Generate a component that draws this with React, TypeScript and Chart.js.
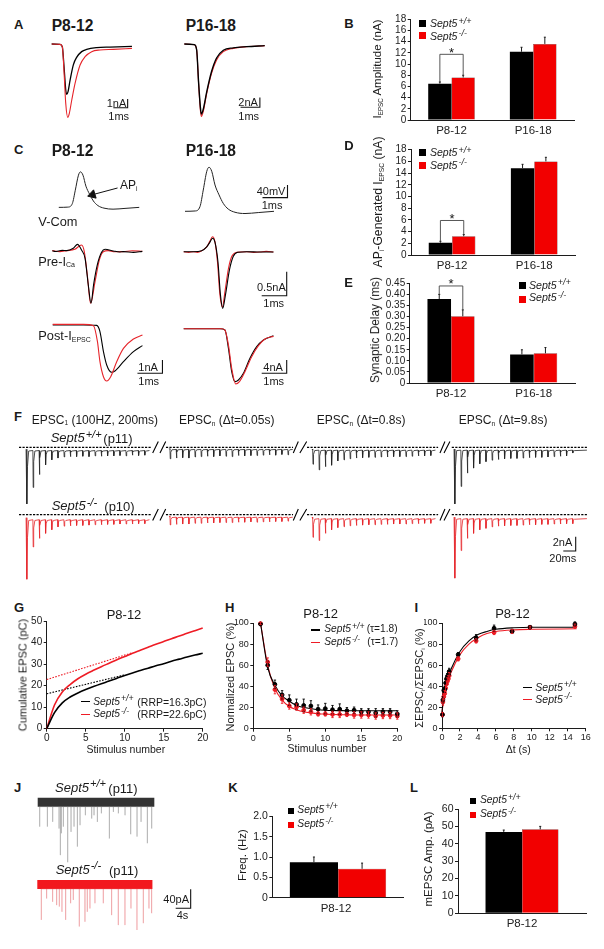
import React, { useEffect, useRef } from "react";
import { Chart, registerables } from "chart.js";

Chart.register(...registerables);
Chart.defaults.font.family = '"Liberation Sans", Arial, sans-serif';
Chart.defaults.color = "#222";

const INK = "#1c1c1c";
const RED = "#f20000";
const TRACE_RED = "#e6242a";

/* ---------- Bar values ---------- */
const ageGroups = ["P8-12", "P16-18"];
const oneGroup = ["P8-12"];
const ampWt = [6.5, 12.2];
const ampKo = [7.6, 13.6];
const ampWtTop = [6.8, 13.0];
const ampKoTop = [8.0, 14.8];
const apWt = [2.1, 14.85];
const apKo = [3.2, 16.0];
const apWtTop = [2.35, 15.5];
const apKoTop = [3.5, 16.7];
const delayWt = [0.379, 0.129];
const delayKo = [0.301, 0.134];
const delayWtTop = [0.4, 0.15];
const delayKoTop = [0.33, 0.16];
const freqWt = [0.87];
const freqKo = [0.71];
const freqWtTop = [1.0];
const freqKoTop = [0.85];
const mAmpWt = [46.8];
const mAmpKo = [48.3];
const mAmpWtTop = [47.9];
const mAmpKoTop = [50];

/* ---------- Panel A traces: [ms, nA] ---------- */
const a1Black = [[0,0],[.58,-.04],[.74,-.31],[.86,-2.6],[.98,-5.3],[1.05,-5.8],[1.14,-5.5],[1.28,-4.2],[1.51,-2.4],[1.74,-1.54],[2.09,-.88],[2.44,-.62],[3.14,-.42],[4.07,-.35],[5.6,-.27]];
const a1Red = [[0,0],[.58,-.04],[.74,-.31],[.86,-3.2],[.98,-6.85],[1.12,-8.46],[1.23,-8],[1.4,-6.46],[1.63,-4.54],[1.98,-2.42],[2.33,-1.46],[2.79,-.88],[3.37,-.69],[4.3,-.62],[5.6,-.5]];
const a2Red = [[0,0],[.52,-.14],[.64,-1.24],[.74,-8.14],[.83,-13.66],[.88,-15],[.98,-14],[1.16,-10.2],[1.41,-6.07],[1.67,-3.3],[2.02,-1.59],[2.53,-.9],[3.22,-.55],[4.16,-.34]];
const a2Black = [[0,0],[.52,-.14],[.64,-1.24],[.74,-8],[.83,-13],[.88,-14.5],[.98,-13.5],[1.16,-9.9],[1.41,-5.7],[1.67,-2.9],[2.02,-1.3],[2.53,-.8],[3.22,-.55],[4.16,-.34]];

/* ---------- Panel C traces ---------- */
const apWave = [[0,0],[.4,1],[.6,15],[.73,67],[.87,126],[.96,139],[1.07,126],[1.2,83],[1.36,52],[1.53,25],[1.73,7],[2,-3],[2.4,-7],[2.93,-4],[3.56,0]];
const apArrow = [[2.6,75.8],[1.49,49.5]];
const pre1Black = [[0,.007],[.12,-.01],[.24,0],[.4,.012],[.57,.007],[.84,.056],[1.01,.139],[1.17,.02],[1.31,-.153],[1.44,-.708],[1.55,-1.09],[1.65,-.708],[1.8,-.29],[1.97,-.028],[2.11,.035],[2.44,0],[2.7,-.02],[2.84,-.014],[3.24,-.028],[3.6,-.007]];
const pre1Red = [[0,.007],[.3,-.012],[.57,.007],[.9,.035],[1.17,.125],[1.28,-.014],[1.4,-.5],[1.53,-1.09],[1.71,-.64],[1.88,-.19],[2.04,-.014],[2.24,.007],[2.5,-.016],[2.84,-.014],[3.2,.006],[3.6,-.007]];
const pre2Red = [[0,0],[.2,-.014],[.39,0],[.55,-.014],[.72,.02],[.92,.1],[1.05,.22],[1.15,.31],[1.25,.21],[1.35,-.21],[1.45,-.9],[1.55,-1.15],[1.65,-.83],[1.79,-.35],[1.92,-.1],[2.12,-.014],[2.52,0],[2.8,-.014],[3.05,-.007],[3.3,.007],[3.59,-.007]];
const pre2Black = [[0,0],[.39,0],[.72,.02],[.92,.1],[1.05,.2],[1.15,.28],[1.25,.2],[1.37,-.21],[1.47,-.9],[1.56,-1.18],[1.67,-.9],[1.83,-.38],[1.98,-.1],[2.16,-.01],[2.52,0],[3.05,-.007],[3.59,-.007]];
const post1Black = [[0,0],[1.23,0],[1.76,-.03],[1.89,-.5],[2.03,-2],[2.16,-3],[2.36,-3.55],[2.49,-3.45],[2.83,-2.75],[3.23,-2],[3.59,-1.55]];
const post1Red = [[0,.05],[1.23,.05],[1.63,-.05],[1.79,-1.25],[1.89,-2.75],[2.03,-3.88],[2.16,-4.2],[2.32,-3.88],[2.56,-2.75],[2.83,-1.75],[3.23,-1.05],[3.59,-.75]];
const post2Black = [[0,0],[1.45,0],[1.65,-.4],[1.79,-5.9],[1.92,-12.9],[2.05,-15.9],[2.19,-15.4],[2.39,-13.4],[2.65,-8.9],[2.92,-5.4],[3.19,-3.4],[3.59,-2.1]];
const post2Red = [[0,0],[1.52,0],[1.65,-.4],[1.79,-4.9],[1.92,-11.9],[2.08,-16.6],[2.23,-15.9],[2.45,-12.9],[2.72,-8.4],[2.99,-5.1],[3.25,-3.1],[3.59,-2.3]];

/* ---------- Panel F: peak EPSC amplitudes in each train (nA) ---------- */
const fBlack1 = [7.9,5.6,3.8,2.45,1.75,1.5,1.35,1.3,1.3,1.25,1.3,1.2,1.25,1.2,1.2,1.15,1.2,1.1,1.15,1.1];
const fBlack2 = [1.6,1.5,1.45,1.5,1.35,1.3,1.25,1.3,1.2,1.25,1.3,1.15,1.2,1.15,1.15,1.1,1.05,1.1,1.0,1.05];
const fBlack3 = [2.36,3.15,2.7,2.5,1.9,1.75,1.6,1.5,1.45,1.4,1.4,1.35,1.35,1.3,1.3,1.3,1.25,1.2,1.2,1.15];
const fBlack4 = [7.9,5.46,3.6,2.9,2.3,2.0,1.8,1.7,1.6,1.55,1.55,1.5,1.45,1.4,1.4,1.35,1.3,1.25,1.2,.8];
const fRed1 = [9,4.5,3.3,2.6,2.1,1.7,1.6,1.55,1.5,1.5,1.45,1.4,1.4,1.35,1.35,1.3,1.3,1.3,1.25,1.25];
const fRed2 = [1.43,1.35,1.3,1.3,1.2,1.2,1.15,1.15,1.1,1.1,1.1,1.05,1.05,1,1.05,1,1,.95,.95,.9];
const fRed3 = [3.15,3.6,2.6,2.1,1.8,1.67,1.55,1.5,1.45,1.4,1.4,1.35,1.35,1.3,1.3,1.3,1.25,1.25,1.2,1.2];
const fRed4 = [8.85,5,3.3,2.6,2.1,1.9,1.7,1.6,1.55,1.5,1.5,1.45,1.4,1.4,1.35,1.35,1.3,1.3,1.25,1.25];
const trainStarts = [12.4, 243.5, 473.7, 702.7];
const fBlackTails = [.45, .3, .4, .4];
const fRedTails = [.7, .35, .55, .55];
const dashedRuns = [[0,214.5],[237,442],[464.5,676],[698,916]];
const breakMarks = [[215.6,224.7],[227.4,236.6],[442.4,450.5],[453,464],[679,687],[685.5,695]];

/* ---------- Panel G ---------- */
const gStim = [0,1,2,3,4,5,6,7,8,9,10,11,12,13,14,15,16,17,18,19,20];
const gBlack = [0,7.5,12,14.7,16.6,18.2,19.6,20.9,22.1,23.4,24.7,25.9,27,28.1,29.2,30.2,31.3,32.3,33.3,34.2,35];
const gRed = [0,11,17,20.5,23.2,25.3,27.1,28.8,30.4,32,33.5,35,36.4,37.8,39.2,40.5,41.8,43,44.3,45.5,46.7];
const gBlackFit = [[0,16.2],[10,25]];
const gRedFit = [[0,22.8],[11,35.3]];

/* ---------- Panel H ---------- */
const hStim = [1,2,3,4,5,6,7,8,9,10,11,12,13,14,15,16,17,18,19,20];
const hBlack = [99,60,42,32,27,23,22,21.5,18.5,19,18,18.5,17,17.5,16,16,15,16,16,14];
const hRed = [99.5,63,37,28,21.5,20.5,17.5,16,14,14,13.5,13.5,13.5,13,13,13,12,12.5,12.5,12];
const hBlackErr = [1,4,4,4,5,5,6,5,4,5,4,5,3,3,3,3,4,3,3,3];
const hRedErr = [1,4,4,4,3,3,3,3,2,2,3,3,2,3,3,3,3,3,3,3];
const hBlackFit = [100,58,41,31,26,22,20,19,18,17.5,17.2,17.1,17,17,17,17,17,17,17,17];
const hRedFit = [100,60,38,27,21,18,16,15,14.2,13.8,13.5,13.3,13.2,13,13,13,13,13,13,13];

/* ---------- Panel I ---------- */
const iTimes = [.05,.1,.2,.3,.4,.5,.6,.7,.8,1.8,3.8,5.8,7.8,9.8,14.8];
const iBlack = [13,27,36,37,43,47,49,51,54,70,86,95,92,96,99];
const iRed = [13,25,30,33,38,42,45,47,50,66,83,91,92,96,97];
const iBlackErr = [2,3,3,3,3,3,3,3,3,2,3,3,2,1,2];
const iRedErr = [2,3,3,3,3,3,3,3,3,2,2,2,2,1,2];
const iFitT = [0,.2,.5,1,2,3,4,5,6,8,10,15];
const iBlackFit = [15,33,44,56,73,83,89,92,94,95.5,96,96];
const iRedFit = [15,28,41,53,70,80,86,90,92,93.5,94,94.5];

/* ---------- Panel J: mEPSC events ---------- */
const jBlackT = [.53,2.58,4,5.69,6.04,6.31,6.84,8,8.89,9.69,10.58,11.29,12.71,14.4,15.02,15.91,16.98,19.11,20.18,21.51,23.29,24.8,26.49,27.56,29.24,30.4];
const jBlackA = [42,42,32,46,102,56,42,117,53,42,84,39,18,25,18,32,14,67,11,14,18,58,63,32,77,46];
const jRedT = [1.07,2.49,4.09,5.16,5.87,6.58,7.56,8.89,9.6,11.2,12.71,13.33,14.04,15.38,17.6,19.82,21.6,23.38,24.98,26.58,28.27,29.78,30.49];
const jRedA = [65,20,27,34,37,48,65,30,23,79,69,48,41,30,30,55,76,76,41,95,72,41,51];

/* ---------- Builders ---------- */
const pts = (a: number[][]) => a.map(([x, y]) => ({ x, y }));
const zip = (xs: number[], ys: number[]) => xs.map((x, i) => ({ x, y: ys[i] }));

function train(start: number, amps: number[], tail: number, end?: number) {
  const out: any[] = [{ x: start - 1, y: -tail * 0.6 }];
  amps.forEach((a, i) => {
    const t = start + i * 10;
    out.push({ x: t, y: -tail }, { x: t + 0.5, y: -a }, { x: t + 1.3, y: -(tail + (a - tail) * 0.3) }, { x: t + 3.2, y: -tail * 1.15 });
  });
  out.push({ x: end ?? start + 198, y: -tail });
  return out;
}
const runs = (r: number[][], y: number) => r.flatMap(([a, b]) => [{ x: a, y }, { x: b, y }, { x: b, y: null }]);
const slashes = (r: number[][], h: number) => r.flatMap(([a, b]) => [{ x: a, y: -h }, { x: b, y: h }, { x: b, y: null }]);
const spikes = (ts: number[], as: number[]) => ts.flatMap((t, i) => [{ x: t, y: 0 }, { x: t, y: -as[i] }, { x: t, y: 0 }]);

/* ---------- Plugins ---------- */
const errPlugin = {
  id: "errs",
  afterDatasetsDraw(chart: any) {
    const { ctx } = chart;
    chart.data.datasets.forEach((ds: any, i: number) => {
      if (!ds.errTop && !ds.errPm) return;
      const meta = chart.getDatasetMeta(i);
      const y = meta.yAxisID ? chart.scales[meta.yAxisID] : chart.scales.y;
      ctx.save();
      ctx.strokeStyle = ds.errColor || INK;
      ctx.lineWidth = ds.errWidth || 1;
      meta.data.forEach((el: any, j: number) => {
        ctx.beginPath();
        if (ds.errTop) {
          const top = y.getPixelForValue(ds.errTop[j]);
          ctx.moveTo(el.x, y.getPixelForValue(ds.data[j]));
          ctx.lineTo(el.x, top);
          ctx.moveTo(el.x - 1, top);
          ctx.lineTo(el.x + 1, top);
        } else {
          const v = ds.data[j].y;
          const a = y.getPixelForValue(v + ds.errPm[j]);
          const b = y.getPixelForValue(v - ds.errPm[j]);
          ctx.moveTo(el.x, a);
          ctx.lineTo(el.x, b);
          ctx.moveTo(el.x - 1.2, a);
          ctx.lineTo(el.x + 1.2, a);
          ctx.moveTo(el.x - 1.2, b);
          ctx.lineTo(el.x + 1.2, b);
        }
        ctx.stroke();
      });
      ctx.restore();
    });
  },
};
const bracketPlugin = {
  id: "bracket",
  afterDatasetsDraw(chart: any, _a: any, opts: any) {
    if (!opts || opts.top == null) return;
    const { ctx } = chart;
    const y = chart.scales.y;
    const xa = chart.getDatasetMeta(0).data[0].x;
    const xb = chart.getDatasetMeta(1).data[0].x;
    const top = y.getPixelForValue(opts.top);
    ctx.save();
    ctx.strokeStyle = "#444";
    ctx.lineWidth = 0.9;
    ctx.beginPath();
    ctx.moveTo(xa, y.getPixelForValue(opts.left));
    ctx.lineTo(xa, top);
    ctx.lineTo(xb, top);
    ctx.lineTo(xb, y.getPixelForValue(opts.right));
    ctx.stroke();
    ctx.fillStyle = "#111";
    ctx.font = '13px "Liberation Sans"';
    ctx.textAlign = "center";
    ctx.textBaseline = "alphabetic";
    ctx.fillText("*", (xa + xb) / 2, top + 2.2);
    ctx.restore();
  },
};
Chart.register(errPlugin as any, bracketPlugin as any);

/* ---------- Chart specs ---------- */
type Spec = { left: number; top: number; width: number; height: number; config: any };

function framed(plot: number[], config: any, ml = 18, mt = 8, mr = 12, mb = 24): Spec {
  const [l, t, r, b] = plot;
  const left = Math.floor(l - ml);
  const top = Math.floor(t - mt);
  const pl = l - left;
  const pt = t - top;
  const width = Math.ceil(r + mr - left);
  const height = Math.ceil(b + mb - top);
  const pr = width - (r - left);
  const pb = height - (b - top);
  const o = config.options;
  o.layout = { padding: { top: pt, right: pr, left: 0, bottom: 0 } };
  o.scales.y.afterFit = (s: any) => { s.width = pl; };
  o.scales.x.afterFit = (s: any) => { s.height = pb; };
  return { left, top, width, height, config };
}

const axisBits = (tick: number) => ({
  border: { display: true, color: INK, width: 1 },
  grid: { drawOnChartArea: false, drawTicks: true, tickLength: tick, tickColor: INK, color: INK },
});

function barSpec(o: any): Spec {
  return framed(o.plot, {
    type: "bar",
    data: {
      labels: o.labels,
      datasets: [
        { data: o.a, backgroundColor: "#000", errTop: o.aTop, barPercentage: 1, categoryPercentage: o.cat },
        { data: o.b, backgroundColor: RED, borderColor: "#5a1010", borderWidth: 0.5, errTop: o.bTop, barPercentage: 1, categoryPercentage: o.cat },
      ],
    },
    options: {
      responsive: false,
      animation: false,
      plugins: { legend: { display: false }, tooltip: { enabled: false }, bracket: o.bracket || {} },
      scales: {
        x: {
          type: "category",
          border: { display: true, color: INK, width: 1 },
          grid: { display: false, drawTicks: false },
          ticks: { font: { size: 11.5 }, padding: 4, maxRotation: 0, labelOffset: o.labelOffset || 0 },
        },
        y: {
          min: 0,
          max: o.max,
          ...axisBits(3),
          ticks: { font: { size: o.tick || 10 }, padding: 1.5, stepSize: o.step, autoSkip: false, callback: o.fmt },
        },
      },
    },
  }, o.ml ?? 34);
}

function traceSpec(rect: number[], origin: number[], ppu: number[], series: any[], bar?: number[]): Spec {
  const [l, t, w, h] = rect;
  const [ox, oy] = origin;
  const [px, py] = ppu;
  const datasets = series.map((s) => ({
    data: s.data,
    borderColor: s.color,
    backgroundColor: s.color,
    borderWidth: s.width ?? 1.1,
    pointRadius: s.radius ?? 0,
    pointStyle: s.pointStyle,
    pointRotation: s.rotation,
    borderDash: s.dash,
    spanGaps: false,
    cubicInterpolationMode: s.smooth ? "monotone" : "default",
    tension: 0,
    clip: false,
  }));
  if (bar) {
    const [cx, cy, dx, dy] = bar;
    datasets.push({
      data: [{ x: cx - dx, y: cy }, { x: cx, y: cy }, { x: cx, y: cy + dy }],
      borderColor: "#111", backgroundColor: "#111", borderWidth: 1.1, pointRadius: 0,
      pointStyle: undefined, pointRotation: undefined, borderDash: undefined, spanGaps: false,
      cubicInterpolationMode: "default", tension: 0, clip: false,
    });
  }
  return {
    left: l, top: t, width: w, height: h,
    config: {
      type: "line",
      data: { datasets },
      options: {
        responsive: false,
        animation: false,
        layout: { padding: 0 },
        plugins: { legend: { display: false }, tooltip: { enabled: false } },
        scales: {
          x: { type: "linear", display: false, min: (l - ox) / px, max: (l + w - ox) / px },
          y: { type: "linear", display: false, max: (oy - t) / py, min: (oy - (t + h)) / py },
        },
      },
    },
  };
}

function xyOptions(xMax: number, xStep: number, yMax: number, yStep: number, tick = 10) {
  return {
    responsive: false,
    animation: false,
    plugins: { legend: { display: false }, tooltip: { enabled: false } },
    scales: {
      x: { type: "linear", min: 0, max: xMax, ...axisBits(3), ticks: { font: { size: tick }, padding: 1, stepSize: xStep, maxRotation: 0, autoSkip: false } },
      y: { type: "linear", min: 0, max: yMax, ...axisBits(3), ticks: { font: { size: tick }, padding: 1.5, stepSize: yStep, autoSkip: false } },
    },
  };
}

const lineDs = (data: any[], color: string, width: number, extra: any = {}) => ({
  data, borderColor: color, backgroundColor: color, borderWidth: width, pointRadius: 0, cubicInterpolationMode: "monotone", clip: false, ...extra,
});
const dotDs = (data: any[], color: string, errPm: number[]) => ({
  data, borderColor: color, backgroundColor: color, showLine: false, pointRadius: 1.9, errPm, errColor: color, errWidth: 0.9, clip: false,
});

const zeroFmt2 = (v: number) => (v === 0 ? "0" : v.toFixed(2));
const zeroFmt1 = (v: number) => (v === 0 ? "0" : v.toFixed(1));

const specs: Spec[] = [
  /* A */
  traceSpec([45, 36, 110, 90], [51.7, 44], [14.33, 8.67], [
    { data: pts(a1Red), color: TRACE_RED, smooth: true },
    { data: pts(a1Black), color: "#000", width: 1.3, smooth: true },
  ], [5.3, -7.35, 1, 1]),
  traceSpec([178, 36, 100, 90], [184.3, 44], [19.33, 4.83], [
    { data: pts(a2Black), color: "#000", width: 1.4, smooth: true },
    { data: pts(a2Red), color: TRACE_RED, smooth: true },
  ], [3.91, -13.1, 1, 2]),
  barSpec({ plot: [410.7, 19.3, 574, 120], labels: ageGroups, a: ampWt, b: ampKo, aTop: ampWtTop, bTop: ampKoTop, max: 18, step: 2, cat: 0.571, bracket: { top: 11.74, left: 6.8, right: 8.0 } }),
  /* C */
  traceSpec([48, 160, 125, 62], [53.3, 211.3], [25, 0.317], [
    { data: pts(apWave), color: "#222", width: 1, smooth: true },
    { data: pts(apArrow), color: "#111", radius: [0, 5], pointStyle: "triangle", rotation: 253, width: 1 },
  ]),
  traceSpec([178, 160, 120, 62], [185, 211.3], [25, 0.317], [
    { data: pts(apWave), color: "#222", width: 1, smooth: true },
  ], [4.1, 43, 1, 40]),
  traceSpec([48, 235, 100, 80], [52.3, 251], [25, 48], [
    { data: pts(pre1Black), color: "#000", smooth: true },
    { data: pts(pre1Red), color: TRACE_RED, smooth: true },
  ]),
  traceSpec([178, 230, 120, 90], [183.7, 251.7], [25, 48], [
    { data: pts(pre2Black), color: "#000", smooth: true },
    { data: pts(pre2Red), color: TRACE_RED, smooth: true },
  ], [4.12, -.917, 1, .5]),
  traceSpec([48, 320, 120, 70], [52.7, 325], [25, 13.33], [
    { data: pts(post1Red), color: TRACE_RED, smooth: true },
    { data: pts(post1Black), color: "#000", smooth: true },
  ], [4.39, -3.62, 1, 1]),
  traceSpec([178, 320, 120, 70], [183.7, 328.7], [25, 3.33], [
    { data: pts(post2Red), color: TRACE_RED, smooth: true },
    { data: pts(post2Black), color: "#000", smooth: true },
  ], [4.12, -13.4, 1, 4]),
  barSpec({ plot: [411, 149.7, 575.3, 255], labels: ageGroups, a: apWt, b: apKo, aTop: apWtTop, bTop: apKoTop, max: 18, step: 2, cat: 0.568, bracket: { top: 5.9, left: 2.35, right: 3.5 } }),
  barSpec({ plot: [409.7, 283.3, 575, 383], labels: ageGroups, a: delayWt, b: delayKo, aTop: delayWtTop, bTop: delayKoTop, max: 0.45, step: 0.05, fmt: zeroFmt2, cat: 0.57, bracket: { top: 0.438, left: 0.4, right: 0.33 } }),
  /* F */
  traceSpec([15, 436, 576, 72], [19, 447.3], [0.62, 7.17], [
    { data: train(trainStarts[0], fBlack1, fBlackTails[0]), color: "#222", width: 0.8 },
    { data: train(trainStarts[1], fBlack2, fBlackTails[1]), color: "#222", width: 0.8 },
    { data: train(trainStarts[2], fBlack3, fBlackTails[2]), color: "#222", width: 0.8 },
    { data: train(trainStarts[3], fBlack4, fBlackTails[3], 916), color: "#222", width: 0.8 },
    { data: runs(dashedRuns, 0), color: "#000", width: 1.2, dash: [2.2, 1.3] },
    { data: slashes(breakMarks, 0.8), color: "#000", width: 1.1 },
  ]),
  traceSpec([15, 500, 576, 85], [19, 514.7], [0.62, 7.17], [
    { data: train(trainStarts[0], fRed1, fRedTails[0]), color: TRACE_RED, width: 0.8 },
    { data: train(trainStarts[1], fRed2, fRedTails[1]), color: TRACE_RED, width: 0.8 },
    { data: train(trainStarts[2], fRed3, fRedTails[2]), color: TRACE_RED, width: 0.8 },
    { data: train(trainStarts[3], fRed4, fRedTails[3], 916), color: TRACE_RED, width: 0.8 },
    { data: runs(dashedRuns, 0), color: "#000", width: 1.2, dash: [2.2, 1.3] },
    { data: slashes(breakMarks, 0.8), color: "#000", width: 1.1 },
  ], [897.9, -5.06, 20, 2]),
  /* G */
  framed([46.7, 621, 202.7, 728.7], {
    type: "line",
    data: { datasets: [
      lineDs(zip(gStim, gBlack), "#000", 1.6),
      lineDs(zip(gStim, gRed), "#ee1c25", 1.6),
      lineDs(pts(gBlackFit), "#000", 1.1, { borderDash: [1.6, 1.4], cubicInterpolationMode: "default", tension: 0 }),
      lineDs(pts(gRedFit), "#ee1c25", 1.1, { borderDash: [1.6, 1.4], cubicInterpolationMode: "default", tension: 0 }),
    ] },
    options: xyOptions(20, 5, 50, 10),
  }),
  /* H */
  framed([253.3, 623, 397.3, 728.7], {
    type: "line",
    data: { datasets: [
      dotDs(zip(hStim, hBlack), "#000", hBlackErr),
      dotDs(zip(hStim, hRed), "#ee1c25", hRedErr),
      lineDs(zip(hStim, hBlackFit), "#000", 1.1),
      lineDs(zip(hStim, hRedFit), "#ee1c25", 1.1),
    ] },
    options: xyOptions(20, 5, 100, 20, 9),
  }),
  /* I */
  framed([442, 623, 585.7, 728.3], {
    type: "line",
    data: { datasets: [
      dotDs(zip(iTimes, iBlack), "#000", iBlackErr),
      dotDs(zip(iTimes, iRed), "#ee1c25", iRedErr),
      lineDs(zip(iFitT, iBlackFit), "#000", 1.1),
      lineDs(zip(iFitT, iRedFit), "#ee1c25", 1.1),
    ] },
    options: xyOptions(16, 2, 100, 20, 9),
  }),
  /* J */
  traceSpec([30, 790, 140, 80], [37.7, 806.7], [3.75, 0.475], [
    { data: spikes(jBlackT, jBlackA), color: "rgba(110,110,110,0.55)", width: 0.6 },
    { data: pts([[0, 9.5], [31.1, 9.5]]), color: "#333", width: 9 },
  ]),
  traceSpec([30, 870, 170, 60], [37.3, 889], [3.75, 0.475], [
    { data: spikes(jRedT, jRedA), color: "rgba(230,110,115,0.65)", width: 0.6 },
    { data: pts([[0, 9.5], [30.7, 9.5]]), color: "#f2181e", width: 9 },
  ], [40.9, -40.6, 4, 40]),
  barSpec({ plot: [272.3, 816.3, 403.7, 897.7], labels: oneGroup, a: freqWt, b: freqKo, aTop: freqWtTop, bTop: freqKoTop, max: 2, step: 0.5, fmt: zeroFmt1, cat: 0.733, tick: 10.5, labelOffset: -2, ml: 22 }),
  barSpec({ plot: [458, 809, 586, 913.3], labels: oneGroup, a: mAmpWt, b: mAmpKo, aTop: mAmpWtTop, bTop: mAmpKoTop, max: 60, step: 10, cat: 0.57, tick: 10.5, ml: 22 }),
];

/* ---------- Text helpers ---------- */
function Tx(p: any) {
  const tf = p.rot
    ? "translate(-50%,-50%) rotate(-90deg)"
    : p.center ? "translate(-50%,-50%)" : "translateY(-50%)";
  return (
    <div style={{ position: "absolute", left: p.x, top: p.y, transform: tf, whiteSpace: "nowrap", lineHeight: 1,
      fontSize: p.s ?? 11, fontWeight: p.b ? 700 : 400, fontStyle: p.i ? "italic" : "normal", color: "#1a1a1a" }}>
      {p.children}
    </div>
  );
}
const Sub = ({ children }: any) => <span style={{ fontSize: "0.55em", position: "relative", top: "0.25em" }}>{children}</span>;
const Sup = ({ children }: any) => <span style={{ fontSize: "0.85em", position: "relative", top: "-0.4em", marginLeft: 1 }}>{children}</span>;
const Geno = (p: any) => <Tx x={p.x} y={p.y} s={p.s ?? 10.5} i>Sept5<Sup>{p.sup}</Sup></Tx>;
function Swatch({ x, y, w = 6.5, c }: any) {
  return <div style={{ position: "absolute", left: x, top: y, width: w, height: w, background: c }} />;
}
function Dash({ x, y, c }: any) {
  return <div style={{ position: "absolute", left: x, top: y - 0.75, width: 9, height: 1.5, background: c }} />;
}

export default function App() {
  const refs = useRef<(HTMLCanvasElement | null)[]>([]);
  useEffect(() => {
    const charts = specs.map((s, i) => new Chart(refs.current[i] as HTMLCanvasElement, s.config));
    return () => charts.forEach((c) => c.destroy());
  }, []);
  return (
    <div style={{ position: "fixed", left: 0, top: 0, width: 604, height: 949, overflow: "hidden", background: "#fff", fontFamily: '"Liberation Sans", Arial, sans-serif' }}>
      {specs.map((s, i) => (
        <canvas key={i} ref={(el) => { refs.current[i] = el; }} width={s.width} height={s.height}
          style={{ position: "absolute", left: s.left, top: s.top, width: s.width, height: s.height }} />
      ))}

      {/* Panel letters */}
      <Tx x={14} y={24} s={13} b>A</Tx>
      <Tx x={344.3} y={23.3} s={13} b>B</Tx>
      <Tx x={14} y={149.3} s={13} b>C</Tx>
      <Tx x={344.3} y={145} s={13} b>D</Tx>
      <Tx x={344.3} y={281.7} s={13} b>E</Tx>
      <Tx x={14} y={415.7} s={13} b>F</Tx>
      <Tx x={14} y={607.3} s={13} b>G</Tx>
      <Tx x={225} y={607.3} s={13} b>H</Tx>
      <Tx x={414.5} y={607.3} s={13} b>I</Tx>
      <Tx x={14} y={787} s={13} b>J</Tx>
      <Tx x={228.3} y={787} s={13} b>K</Tx>
      <Tx x={410} y={787.3} s={13} b>L</Tx>

      {/* A */}
      <Tx x={51.7} y={26} s={15.6} b>P8-12</Tx>
      <Tx x={185.7} y={26} s={15.6} b>P16-18</Tx>
      <Tx x={106.7} y={102.7}>1nA</Tx>
      <Tx x={108.3} y={116.3}>1ms</Tx>
      <Tx x={238.3} y={101.7}>2nA</Tx>
      <Tx x={238.3} y={116.3}>1ms</Tx>

      {/* B */}
      <Swatch x={419.3} y={20} c="#000" />
      <Swatch x={419.3} y={32.3} c={RED} />
      <Geno x={430} y={23.3} sup="+/+" />
      <Geno x={430} y={35.7} sup="-/-" />
      <Tx x={377.7} y={69} s={11.5} rot center>I<Sub>EPSC</Sub> Amplitude (nA)</Tx>

      {/* C */}
      <Tx x={51.7} y={150.7} s={15.6} b>P8-12</Tx>
      <Tx x={185.7} y={150.7} s={15.6} b>P16-18</Tx>
      <Tx x={120} y={185} s={12}>AP<Sub>i</Sub></Tx>
      <Tx x={38.3} y={222.3} s={12.8}>V-Com</Tx>
      <Tx x={38.3} y={261.7} s={12.8}>Pre-I<Sub>Ca</Sub></Tx>
      <Tx x={38.3} y={336} s={12.8}>Post-I<Sub>EPSC</Sub></Tx>
      <Tx x={256.7} y={190.7}>40mV</Tx>
      <Tx x={261.7} y={205.3}>1ms</Tx>
      <Tx x={257} y={286.7}>0.5nA</Tx>
      <Tx x={263.3} y={303}>1ms</Tx>
      <Tx x={138.3} y={367.3}>1nA</Tx>
      <Tx x={138.3} y={380.7}>1ms</Tx>
      <Tx x={263.3} y={367.3}>4nA</Tx>
      <Tx x={263.3} y={380.7}>1ms</Tx>

      {/* D */}
      <Swatch x={419.3} y={149.3} c="#000" />
      <Swatch x={419.3} y={162.3} c={RED} />
      <Geno x={430} y={152.3} sup="+/+" />
      <Geno x={430} y={165} sup="-/-" />
      <Tx x={377.7} y={202} s={12.2} rot center>AP<Sub>i</Sub>-Generated I<Sub>EPSC</Sub> (nA)</Tx>

      {/* E */}
      <Swatch x={518.7} y={282} w={7} c="#000" />
      <Swatch x={518.7} y={295.7} w={7} c={RED} />
      <Geno x={529} y={285.7} sup="+/+" s={10.6} />
      <Geno x={529} y={298.3} sup="-/-" s={10.6} />
      <Tx x={375.7} y={329.7} s={11.85} rot center>Synaptic Delay (ms)</Tx>

      {/* F */}
      <Tx x={31.7} y={419.7} s={12}>EPSC<Sub>1</Sub> (100HZ, 200ms)</Tx>
      <Tx x={179} y={420} s={12}>EPSC<Sub>n</Sub> (Δt=0.05s)</Tx>
      <Tx x={316.7} y={420.3} s={12}>EPSC<Sub>n</Sub> (Δt=0.8s)</Tx>
      <Tx x={458.7} y={420.3} s={12}>EPSC<Sub>n</Sub> (Δt=9.8s)</Tx>
      <Geno x={50.7} y={438.3} s={13} sup="+/+" />
      <Tx x={103.3} y={438.3} s={13}>(p11)</Tx>
      <Geno x={51.7} y={506.3} s={13} sup="-/-" />
      <Tx x={104.3} y={506.3} s={13}>(p10)</Tx>
      <Tx x={552.7} y={542.3}>2nA</Tx>
      <Tx x={549.3} y={557.7}>20ms</Tx>

      {/* G */}
      <Tx x={124} y={614} s={13} center>P8-12</Tx>
      <Tx x={23} y={675} s={11} rot center>Cumulative EPSC (pC)</Tx>
      <Tx x={125.8} y={748.7} s={10.5} center>Stimulus number</Tx>
      <Dash x={81} y={701.7} c="#000" />
      <Dash x={81} y={714.3} c="#ee1c25" />
      <Geno x={93.3} y={701.7} s={10.2} sup="+/+" />
      <Geno x={93.3} y={714.3} s={10.2} sup="-/-" />
      <Tx x={137.3} y={701.7} s={10.5}>(RRP=16.3pC)</Tx>
      <Tx x={137.3} y={714.3} s={10.5}>(RRP=22.6pC)</Tx>

      {/* H */}
      <Tx x={320.7} y={613} s={13} center>P8-12</Tx>
      <Tx x={230} y={677} s={11} rot center>Normalized EPSC (%)</Tx>
      <Tx x={327} y={748.3} s={10.5} center>Stimulus number</Tx>
      <Dash x={311} y={630} c="#000" />
      <Dash x={311} y={642.7} c="#ee1c25" />
      <Geno x={324.3} y={629.3} s={10.2} sup="+/+" />
      <Geno x={324.3} y={642} s={10.2} sup="-/-" />
      <Tx x={366.7} y={629.3} s={10.2}>(τ=1.8)</Tx>
      <Tx x={367.3} y={642} s={10.2}>(τ=1.7)</Tx>

      {/* I */}
      <Tx x={512.5} y={613} s={13} center>P8-12</Tx>
      <Tx x={419} y={677.5} s={11} rot center>ΣEPSC<Sub>i</Sub>/ΣEPSC<Sub>i</Sub> (%)</Tx>
      <Tx x={518.3} y={748.7} s={10.5} center>Δt (s)</Tx>
      <Dash x={522.7} y={687.3} c="#000" />
      <Dash x={522.7} y={699.7} c="#ee1c25" />
      <Geno x={535.3} y={686.7} sup="+/+" />
      <Geno x={535.3} y={699} sup="-/-" />

      {/* J */}
      <Geno x={55} y={787.7} s={13} sup="+/+" />
      <Tx x={108.3} y={787.7} s={13}>(p11)</Tx>
      <Geno x={55.7} y={869.7} s={13} sup="-/-" />
      <Tx x={109} y={869.7} s={13}>(p11)</Tx>
      <Tx x={163.3} y={898.7}>40pA</Tx>
      <Tx x={176.7} y={915.3}>4s</Tx>

      {/* K */}
      <Swatch x={288} y={808} w={6} c="#000" />
      <Swatch x={288} y={821.7} w={6} c={RED} />
      <Geno x={297.3} y={809.7} s={10.3} sup="+/+" />
      <Geno x={297.3} y={824} s={10.3} sup="-/-" />
      <Tx x={242.7} y={855} s={11.5} rot center>Freq. (Hz)</Tx>

      {/* L */}
      <Swatch x={470} y={798} w={6} c="#000" />
      <Swatch x={470} y={811.7} w={6} c={RED} />
      <Geno x={480} y={800} s={10.3} sup="+/+" />
      <Geno x={480} y={814.3} s={10.3} sup="-/-" />
      <Tx x={429} y={859} s={11.5} rot center>mEPSC Amp. (pA)</Tx>
    </div>
  );
}
